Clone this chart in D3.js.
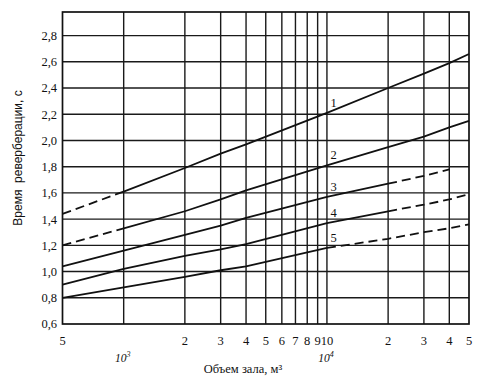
<!DOCTYPE html>
<html>
<head>
<meta charset="utf-8">
<script src="https://cdn.jsdelivr.net/npm/d3@7"></script>
<style>
  body { margin: 0; background: #fff; }
</style>
</head>
<body>
<script>
// data

var volumes = [500, 1000, 2000, 3000, 4000, 10000, 20000, 30000, 40000, 50000];
var curve1 = [1.44, 1.61, 1.79, 1.90, 1.97, 2.21, 2.40, 2.51, 2.59, 2.66];
var curve2 = [1.20, 1.33, 1.46, 1.55, 1.62, 1.81, 1.95, 2.03, 2.10, 2.15];
var curve3 = [1.04, 1.16, 1.28, 1.35, 1.41, 1.57, 1.67, 1.73, 1.78, null];
var curve4 = [0.90, 1.02, 1.12, 1.17, 1.21, 1.37, 1.46, 1.51, 1.55, 1.59];
var curve5 = [0.80, 0.88, 0.96, 1.01, 1.04, 1.18, 1.25, 1.30, 1.33, 1.36];
var curveNames = ["1", "2", "3", "4", "5"];
// solid part of each curve (the rest is dashed)
var solidFrom = [1000, 1000, 500, 500, 500];
var solidTo = [50000, 50000, 20000, 20000, 10000];

var yTicks = [0.6, 0.8, 1.0, 1.2, 1.4, 1.6, 1.8, 2.0, 2.2, 2.4, 2.6, 2.8];
var xGrid = [1000, 2000, 3000, 4000, 5000, 6000, 7000, 8000, 9000, 10000, 20000, 30000, 40000];
var xTickLabels = [[500, "5"], [2000, "2"], [3000, "3"], [4000, "4"], [5000, "5"], [6000, "6"],
  [7000, "7"], [8000, "8"], [9000, "9"], [10000, "10"], [20000, "2"], [30000, "3"], [40000, "4"], [50000, "5"]];

var curves = [curve1, curve2, curve3, curve4, curve5];

// scales

var x = d3.scaleLog().domain([500, 50000]).range([62.5, 469]);
var y = d3.scaleLinear().domain([0.6, 2.98]).range([324, 12]);

var svg = d3.select("body").append("svg")
    .attr("width", 486).attr("height", 380);

var serif = "'Liberation Serif', 'DejaVu Serif', serif";
var ink = "#111";

// grid
var grid = svg.append("g").attr("stroke", "#1a1a1a").attr("stroke-width", 1.4);
grid.selectAll("line.h").data(yTicks.slice(1)).enter().append("line")
    .attr("class", "h")
    .attr("x1", x(500)).attr("x2", x(50000))
    .attr("y1", function(d) { return y(d); }).attr("y2", function(d) { return y(d); });
grid.selectAll("line.v").data(xGrid).enter().append("line")
    .attr("class", "v")
    .attr("x1", function(d) { return x(d); }).attr("x2", function(d) { return x(d); })
    .attr("y1", y(2.98)).attr("y2", y(0.6));

svg.append("rect")
    .attr("x", x(500)).attr("y", y(2.98))
    .attr("width", x(50000) - x(500)).attr("height", y(0.6) - y(2.98))
    .attr("fill", "none").attr("stroke", ink).attr("stroke-width", 1.7);

// y tick labels
svg.append("g").selectAll("text").data(yTicks).enter().append("text")
    .attr("x", 57).attr("y", function(d) { return y(d); })
    .attr("dy", "0.35em")
    .attr("text-anchor", "end")
    .attr("fill", ink)
    .attr("font-family", serif).attr("font-size", 12.5)
    .text(function(d) { return d3.format(".1f")(d).replace(".", ","); });

// x tick labels
svg.append("g").selectAll("text").data(xTickLabels).enter().append("text")
    .attr("x", function(d) { return x(d[0]); }).attr("y", 345)
    .attr("text-anchor", "middle")
    .attr("fill", ink)
    .attr("font-family", serif).attr("font-size", 12.5)
    .text(function(d) { return d[1]; });

var decades = [[1000, "3"], [10000, "4"]];
decades.forEach(function(d) {
  var t = svg.append("text")
      .attr("x", x(d[0]) - 1).attr("y", 362)
      .attr("text-anchor", "middle")
      .attr("fill", ink)
      .attr("font-family", serif).attr("font-size", 11.5).attr("font-style", "italic")
      .text("10");
  t.append("tspan").attr("dy", -5).attr("font-size", 8).text(d[1]);
});

// axis titles
svg.append("text")
    .attr("x", 243).attr("y", 373)
    .attr("text-anchor", "middle")
    .attr("fill", ink)
    .attr("font-family", serif).attr("font-size", 12.5)
    .text("Объем зала, м³");

svg.append("text")
    .attr("transform", "translate(22,158) rotate(-90)")
    .attr("text-anchor", "middle")
    .attr("fill", ink)
    .attr("font-family", "'Liberation Sans', Arial, sans-serif").attr("font-size", 12)
    .attr("xml:space", "preserve")
    .text("Время  реверберации, с");

// curves
var line = d3.line()
    .defined(function(d) { return d[1] != null; })
    .x(function(d) { return x(d[0]); })
    .y(function(d) { return y(d[1]); });

var curveGroup = svg.append("g").attr("fill", "none").attr("stroke", ink).attr("stroke-width", 1.8);
curves.forEach(function(values, i) {
  var pts = volumes.map(function(v, j) { return [v, values[j]]; })
      .filter(function(d) { return d[1] != null; });
  var solid = pts.filter(function(d) { return d[0] >= solidFrom[i] && d[0] <= solidTo[i]; });
  var before = pts.filter(function(d) { return d[0] <= solidFrom[i]; });
  var after = pts.filter(function(d) { return d[0] >= solidTo[i]; });
  curveGroup.append("path").attr("d", line(solid));
  if (before.length > 1) curveGroup.append("path").attr("d", line(before)).attr("stroke-dasharray", "9,5");
  if (after.length > 1) curveGroup.append("path").attr("d", line(after)).attr("stroke-dasharray", "9,5");

  svg.append("text")
      .attr("x", x(10800)).attr("y", y(values[5]) - 6)
      .attr("text-anchor", "middle")
      .attr("fill", ink)
      .attr("font-family", serif).attr("font-size", 12.5)
      .text(curveNames[i]);
});
</script>
</body>
</html>
